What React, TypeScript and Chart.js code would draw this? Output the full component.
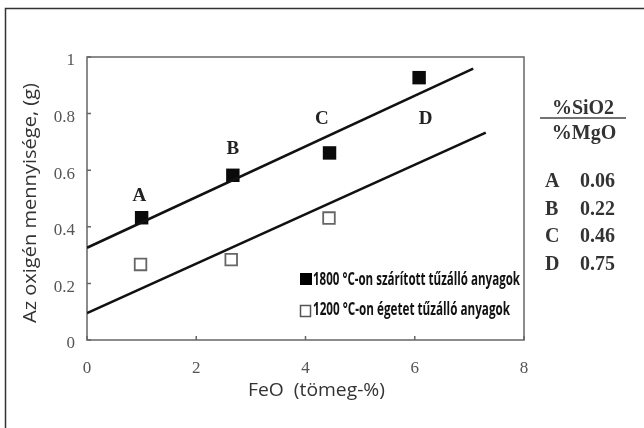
import { useEffect, useRef } from 'react';
import { Chart, registerables } from 'chart.js';

Chart.register(...registerables);

// ---- data ----
const hotX = [1.0, 2.67, 4.44, 6.08];
const hotY = [0.432, 0.582, 0.661, 0.927];
const coldX = [0.98, 2.64, 4.43];
const coldY = [0.267, 0.284, 0.431];
const fitHotX = [0, 7.07];
const fitHotY = [0.326, 0.959];
const fitColdX = [0, 7.3];
const fitColdY = [0.095, 0.733];
const pointLetters = ['A', 'B', 'C', 'D'];
const letterX = [0.96, 2.67, 4.3, 6.2];
const letterY = [0.509, 0.676, 0.78, 0.78];
const ratioLetters = ['A', 'B', 'C', 'D'];
const ratioValues = ['0.06', '0.22', '0.46', '0.75'];
const legendLabels = ['1800 °C-on szárított tűzálló anyagok', '1200 °C-on égetet tűzálló anyagok'];
const xTitle = 'FeO  (tömeg-%)';
const yTitle = 'Az oxigén mennyisége, (g)';
const ratioTop = '%SiO2';
const ratioBottom = '%MgO';

const toPts = (xs: number[], ys: number[]) => xs.map((x, i) => ({ x, y: ys[i] }));

function fitText(ctx: CanvasRenderingContext2D, text: string, x: number, y: number, width: number, align: 'left' | 'center') {
  const w = ctx.measureText(text).width;
  const s = width / w;
  ctx.save();
  ctx.translate(x, y);
  ctx.scale(s, 1);
  ctx.textAlign = align;
  ctx.fillText(text, 0, 0);
  ctx.restore();
}

const decorPlugin = {
  id: 'decor',
  beforeDraw(chart: any) {
    const ctx = chart.ctx as CanvasRenderingContext2D;
    ctx.save();
    ctx.fillStyle = '#ffffff';
    ctx.fillRect(0, 0, chart.width, chart.height);
    // outer frame (top + left)
    ctx.strokeStyle = '#333';
    ctx.lineWidth = 1.5;
    ctx.beginPath();
    ctx.moveTo(5.5, 428);
    ctx.lineTo(5.5, 8.5);
    ctx.lineTo(644, 8.5);
    ctx.stroke();
    ctx.restore();
  },
  beforeDatasetsDraw(chart: any) {
    const ctx = chart.ctx as CanvasRenderingContext2D;
    const a = chart.chartArea;
    const xs = chart.scales.x;
    const ys = chart.scales.y;
    ctx.save();
    ctx.strokeStyle = '#666';
    ctx.lineWidth = 1.5;
    ctx.strokeRect(a.left, a.top, a.right - a.left, a.bottom - a.top);
    ctx.beginPath();
    xs.ticks.forEach((t: any) => {
      const px = xs.getPixelForValue(t.value);
      ctx.moveTo(px, a.bottom);
      ctx.lineTo(px, a.bottom - 4);
    });
    ys.ticks.forEach((t: any) => {
      const py = ys.getPixelForValue(t.value);
      ctx.moveTo(a.left, py);
      ctx.lineTo(a.left + 4, py);
    });
    ctx.stroke();
    ctx.restore();
  },
  afterDraw(chart: any) {
    const ctx = chart.ctx as CanvasRenderingContext2D;
    const xs = chart.scales.x;
    const ys = chart.scales.y;
    ctx.save();
    // point letters
    ctx.fillStyle = '#222';
    ctx.font = 'bold 19px "Liberation Serif"';
    ctx.textAlign = 'center';
    ctx.textBaseline = 'middle';
    pointLetters.forEach((l, i) => {
      ctx.fillText(l, xs.getPixelForValue(letterX[i]), ys.getPixelForValue(letterY[i]));
    });

    // legend
    ctx.fillStyle = '#000';
    ctx.fillRect(300, 273, 12, 12);
    ctx.fillStyle = '#fff';
    ctx.fillRect(300, 305, 11, 11);
    ctx.strokeStyle = '#555';
    ctx.lineWidth = 1.5;
    ctx.strokeRect(300.5, 305.5, 10, 11);
    ctx.fillStyle = '#111';
    ctx.font = 'bold 17px "Open Sans"';
    ctx.textBaseline = 'middle';
    fitText(ctx, legendLabels[0], 313, 280.5, 207, 'left');
    fitText(ctx, legendLabels[1], 313, 310.5, 197, 'left');

    // axis titles
    ctx.fillStyle = '#333';
    ctx.font = '18px "Open Sans"';
    fitText(ctx, xTitle, 316.5, 391, 137, 'center');
    ctx.save();
    ctx.translate(31, 203);
    ctx.rotate(-Math.PI / 2);
    ctx.font = '18px "Open Sans"';
    fitText(ctx, yTitle, 0, 0, 240, 'center');
    ctx.restore();

    // ratio table
    ctx.fillStyle = '#333';
    ctx.font = 'bold 20px "Liberation Serif"';
    ctx.textAlign = 'center';
    ctx.fillText(ratioTop, 583, 109);
    ctx.fillText(ratioBottom, 584, 134);
    ctx.strokeStyle = '#444';
    ctx.lineWidth = 1.5;
    ctx.beginPath();
    ctx.moveTo(540, 118);
    ctx.lineTo(626, 118);
    ctx.stroke();
    ctx.textAlign = 'left';
    const rowY = [182, 209.5, 237, 265];
    ratioLetters.forEach((l, i) => {
      ctx.fillText(l, 545, rowY[i]);
      ctx.fillText(ratioValues[i], 580, rowY[i]);
    });
    ctx.restore();
  },
};

export default function App() {
  const ref = useRef<HTMLCanvasElement | null>(null);
  useEffect(() => {
    document.body.style.margin = '0';
    const canvas = ref.current!;
    const chart = new Chart(canvas, {
      type: 'scatter',
      data: {
        datasets: [
          {
            type: 'line',
            data: toPts(fitHotX, fitHotY),
            borderColor: '#111',
            borderWidth: 2.6,
            pointRadius: 0,
            fill: false,
          } as any,
          {
            type: 'line',
            data: toPts(fitColdX, fitColdY),
            borderColor: '#111',
            borderWidth: 2.6,
            pointRadius: 0,
            fill: false,
          } as any,
          {
            data: toPts(hotX, hotY),
            pointStyle: 'rect',
            pointRadius: 9.5,
            backgroundColor: '#0a0a0a',
            borderColor: '#0a0a0a',
            borderWidth: 0,
          },
          {
            data: toPts(coldX, coldY),
            pointStyle: 'rect',
            pointRadius: 8.2,
            backgroundColor: '#ffffff',
            borderColor: '#666',
            borderWidth: 1.8,
          },
        ],
      },
      options: {
        responsive: false,
        animation: false,
        layout: { padding: { left: 0, top: 57, right: 120, bottom: 48 } },
        plugins: { legend: { display: false }, tooltip: { enabled: false } },
        scales: {
          x: {
            type: 'linear',
            min: 0,
            max: 8,
            afterFit: (s: any) => { s.height = 40; },
            ticks: { stepSize: 2, color: '#555', font: { family: 'Liberation Serif', size: 17 }, padding: 18 },
            grid: { display: false, drawTicks: false },
            border: { display: false },
          },
          y: {
            min: 0,
            max: 1,
            afterFit: (s: any) => { s.width = 87; },
            ticks: {
              stepSize: 0.2,
              color: '#555',
              font: { family: 'Liberation Serif', size: 17 },
              padding: 12,
              labelOffset: 4,
              callback: (v: any) => String(Number(Number(v).toFixed(1))),
            },
            grid: { display: false, drawTicks: false },
            border: { display: false },
          },
        },
      },
      plugins: [decorPlugin],
    });
    return () => chart.destroy();
  }, []);
  return (
    <div style={{ width: 644, height: 428 }}>
      <canvas ref={ref} width={644} height={428} style={{ display: 'block' }} />
    </div>
  );
}
